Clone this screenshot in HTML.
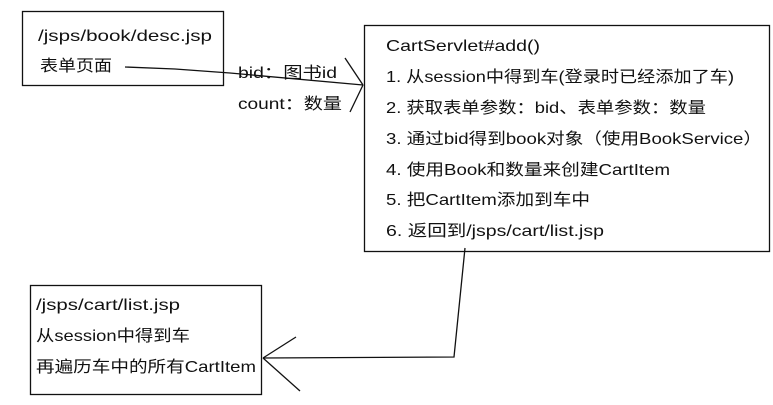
<!DOCTYPE html>
<html><head><meta charset="utf-8"><style>
html,body{margin:0;padding:0;background:#fff;width:773px;height:405px;overflow:hidden}
text{font-family:"Liberation Sans","Noto Sans CJK SC",sans-serif;font-size:16px;fill:#111}
</style></head><body>
<svg width="773" height="405" xmlns="http://www.w3.org/2000/svg">
<g fill="none" stroke="#111" stroke-width="1.3">
<rect x="22.5" y="11.5" width="201" height="74"/>
<rect x="364.5" y="25.5" width="405" height="226"/>
<rect x="30.5" y="285.5" width="231" height="109"/>
<polyline points="125,67 175,69 230,73 363,85"/>
<line x1="345" y1="58" x2="363" y2="85"/>
<line x1="363" y1="85" x2="350" y2="112"/>
<polyline points="465,248 454,357 263,358"/>
<line x1="296" y1="337" x2="263" y2="358"/>
<line x1="263" y1="358" x2="300" y2="391"/>
</g>
<text x="38" y="41" textLength="174" lengthAdjust="spacingAndGlyphs">/jsps/book/desc.jsp</text>
<text x="40" y="71" textLength="72" lengthAdjust="spacingAndGlyphs">表单页面</text>
<text x="238" y="78" textLength="99" lengthAdjust="spacingAndGlyphs">bid：图书id</text>
<text x="238" y="109" textLength="104" lengthAdjust="spacingAndGlyphs">count：数量</text>
<text x="386" y="51" textLength="154" lengthAdjust="spacingAndGlyphs">CartServlet#add()</text>
<text x="386" y="82" textLength="348" lengthAdjust="spacingAndGlyphs">1. 从session中得到车(登录时已经添加了车)</text>
<text x="386" y="113" textLength="320" lengthAdjust="spacingAndGlyphs">2. 获取表单参数：bid、表单参数：数量</text>
<text x="386" y="144" textLength="376" lengthAdjust="spacingAndGlyphs">3. 通过bid得到book对象（使用BookService）</text>
<text x="386" y="175" textLength="284" lengthAdjust="spacingAndGlyphs">4. 使用Book和数量来创建CartItem</text>
<text x="386" y="205" textLength="204" lengthAdjust="spacingAndGlyphs">5. 把CartItem添加到车中</text>
<text x="386" y="236" textLength="218" lengthAdjust="spacingAndGlyphs">6. 返回到/jsps/cart/list.jsp</text>
<text x="36" y="310" textLength="144" lengthAdjust="spacingAndGlyphs">/jsps/cart/list.jsp</text>
<text x="36" y="341" textLength="154" lengthAdjust="spacingAndGlyphs">从session中得到车</text>
<text x="36" y="372" textLength="220" lengthAdjust="spacingAndGlyphs">再遍历车中的所有CartItem</text>
</svg>
</body></html>
